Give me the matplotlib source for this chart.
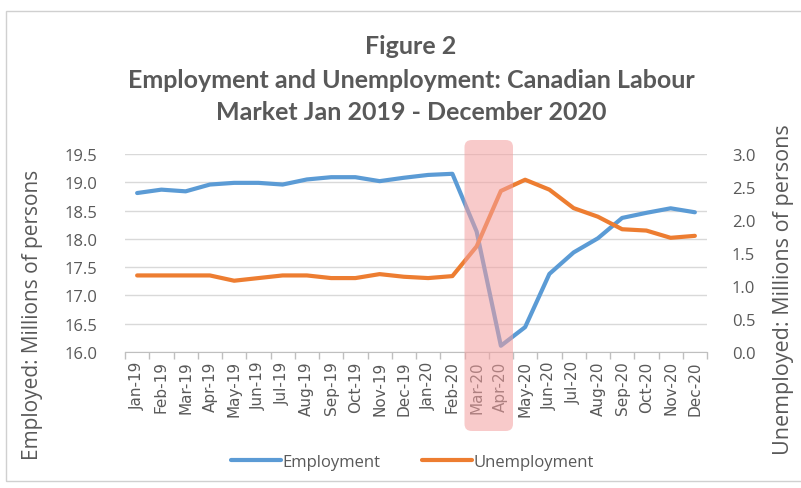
import matplotlib
matplotlib.use("Agg")
import matplotlib.pyplot as plt
from matplotlib.patches import FancyBboxPatch, Rectangle
from matplotlib.transforms import blended_transform_factory
from matplotlib.ticker import FixedLocator

months = ["Jan-19", "Feb-19", "Mar-19", "Apr-19", "May-19", "Jun-19", "Jul-19",
          "Aug-19", "Sep-19", "Oct-19", "Nov-19", "Dec-19", "Jan-20", "Feb-20",
          "Mar-20", "Apr-20", "May-20", "Jun-20", "Jul-20", "Aug-20", "Sep-20",
          "Oct-20", "Nov-20", "Dec-20"]
employment = [18.81, 18.87, 18.84, 18.96, 18.99, 18.99, 18.96, 19.05, 19.09, 19.09,
              19.02, 19.08, 19.13, 19.15, 18.13, 16.11, 16.44, 17.38, 17.76, 18.01,
              18.37, 18.46, 18.54, 18.47]
unemployment = [1.16, 1.16, 1.16, 1.16, 1.08, 1.12, 1.16, 1.16, 1.12, 1.12,
                1.18, 1.14, 1.12, 1.15, 1.60, 2.44, 2.61, 2.46, 2.18, 2.05,
                1.86, 1.84, 1.73, 1.76]
left_ticks = [16.0, 16.5, 17.0, 17.5, 18.0, 18.5, 19.0, 19.5]
right_ticks = [0.0, 0.5, 1.0, 1.5, 2.0, 2.5, 3.0]
highlight = ["Mar-20", "Apr-20"]

TXT = "#595959"
BLUE = "#5B9BD5"
ORANGE = "#ED7D31"
GRID = "#D9D9D9"

fig = plt.figure(figsize=(8.01, 4.89), dpi=100)
fig.patch.set_facecolor("white")

# chart border
fig.patches.append(Rectangle((6/801, 1 - 482/489), 800/801, (482-12)/489,
                             transform=fig.transFigure, fill=False,
                             edgecolor="#D0D0D0", linewidth=1.0))

ax = fig.add_axes([125/801, 1 - 353/489, 582/801, 198/489])
ax2 = ax.twinx()

x = list(range(len(months)))
ax.plot(x, employment, color=BLUE, lw=3.0, solid_capstyle="round",
        solid_joinstyle="round", zorder=3, label="Employment")
ax2.plot(x, unemployment, color=ORANGE, lw=3.0, solid_capstyle="round",
         solid_joinstyle="round", zorder=3, label="Unemployment")

ax.set_xlim(-0.5, len(months) - 0.5)
ax.set_ylim(16.0, 19.5)
ax2.set_ylim(0.0, 3.0)

ax.set_yticks(left_ticks)
ax.set_yticklabels([f"{v:.1f}" for v in left_ticks])
ax2.set_yticks(right_ticks)
ax2.set_yticklabels([f"{v:.1f}" for v in right_ticks])
ax.yaxis.grid(True, color=GRID, lw=1.0)
ax.set_axisbelow(True)

ax.set_xticks(x)
ax.set_xticklabels(months, rotation=90, fontsize=11, color=TXT,
                   family="DejaVu Sans")
ax.xaxis.set_minor_locator(FixedLocator([i - 0.5 for i in range(len(months) + 1)]))
ax.tick_params(axis="x", which="major", length=0, pad=6)
ax.tick_params(axis="x", which="minor", length=5, color="#BFBFBF", width=1)
ax.tick_params(axis="y", length=0, labelsize=12, labelcolor=TXT, pad=20)
ax2.tick_params(axis="y", length=0, labelsize=12, labelcolor=TXT, pad=18)
for lab in ax.get_yticklabels() + ax2.get_yticklabels():
    lab.set_family("Open Sans")

for a in (ax, ax2):
    for s in ("left", "right", "top"):
        a.spines[s].set_visible(False)
ax2.spines["bottom"].set_visible(False)
ax.spines["bottom"].set_color("#BFBFBF")

ax.set_ylabel("Employed: Millions of persons", fontsize=15, color=TXT,
              family="Open Sans", va="center", ha="center")
ax.yaxis.set_label_coords((32 - 125) / 582, (353 - 315) / 198)
ax2.set_ylabel("Unemployed: Millions of persons", fontsize=15.5, color=TXT,
               family="Open Sans", va="center", ha="center")
ax2.yaxis.set_label_coords((783 - 125) / 582, (353 - 290) / 198)

# highlight band over Mar-20 .. Apr-20
i0 = months.index(highlight[0]) - 0.5
i1 = months.index(highlight[-1]) + 0.5
tr = blended_transform_factory(ax2.transData, fig.transFigure)
band = FancyBboxPatch((i0, 1 - 432/489), i1 - i0, (432 - 141)/489,
                      boxstyle="round,pad=0,rounding_size=0.3",
                      mutation_aspect=0.048,
                      transform=tr, facecolor="#F4A0A0", alpha=0.55,
                      edgecolor="none", zorder=10, clip_on=False)
ax2.add_patch(band)

title_lines = ["Figure 2",
               "Employment and Unemployment: Canadian Labour",
               "Market Jan 2019 - December 2020"]
for line, ypix in zip(title_lines, [47, 80, 112]):
    fig.text(0.513, 1 - ypix/489, line, ha="center", va="center",
             fontsize=18, fontweight="bold", color=TXT, family="Lato")

h1, l1 = ax.get_legend_handles_labels()
h2, l2 = ax2.get_legend_handles_labels()
leg = fig.legend(h1 + h2, l1 + l2, loc="center", bbox_to_anchor=(0.515, 1 - 463/489),
                 ncol=2, frameon=False, handlelength=3.0,
                 handletextpad=0.1, columnspacing=2.5,
                 prop={"family": "Open Sans", "size": 12})
for t in leg.get_texts():
    t.set_color(TXT)

fig.savefig("out.png", dpi=100, facecolor="white")
